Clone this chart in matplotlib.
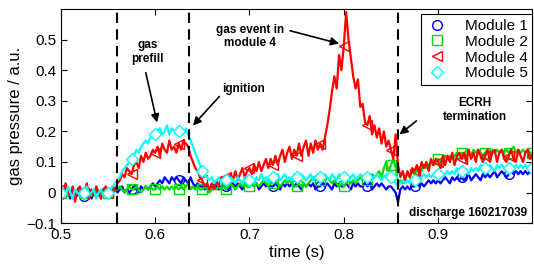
import numpy as np
import matplotlib
matplotlib.use('Agg')
import matplotlib.pyplot as plt

plt.rcParams['font.family'] = ['Liberation Sans', 'DejaVu Sans']

# time base: 0.5 s to 1.0 s, 2.5 ms step
T_START = 0.5
T_STEP = 0.0025

# Module 1 (blue)
module1 = [
    0.00, -0.01, 0.01, 0.00, -0.02, 0.01, 0.00, -0.01, 0.01, 0.00, -0.01, 0.00, 0.01, -0.02, 0.00, 0.01, -0.01, 0.00, 0.01, -0.01,
    0.00, 0.01, 0.00, 0.01, 0.00, 0.01, 0.02, 0.00, 0.01, 0.00, 0.01, 0.02, 0.01, 0.00, 0.02, 0.01, 0.02, 0.01, 0.02, 0.03,
    0.02, 0.03, 0.04, 0.03, 0.05, 0.04, 0.03, 0.05, 0.04, 0.05, 0.04, 0.03, 0.05, 0.04, 0.03, 0.05, 0.03, 0.02, 0.03, 0.02,
    0.02, 0.01, 0.02, 0.01, 0.02, 0.03, 0.02, 0.01, 0.02, 0.03, 0.02, 0.01, 0.02, 0.03, 0.02, 0.03, 0.02, 0.01, 0.03, 0.02,
    0.02, 0.03, 0.02, 0.03, 0.01, 0.02, 0.03, 0.02, 0.03, 0.02, 0.02, 0.03, 0.02, 0.01, 0.03, 0.02, 0.03, 0.02, 0.03, 0.02,
    0.03, 0.02, 0.01, 0.03, 0.02, 0.03, 0.02, 0.03, 0.01, 0.02, 0.02, 0.03, 0.02, 0.03, 0.02, 0.01, 0.03, 0.02, 0.03, 0.02,
    0.02, 0.03, 0.02, 0.01, 0.03, 0.02, 0.03, 0.02, 0.02, 0.03, 0.02, 0.03, 0.01, 0.02, 0.03, 0.02, 0.03, 0.02, 0.01, 0.02,
    0.02, 0.01, 0.00, -0.03, 0.01, 0.02, 0.01, 0.02, 0.01, 0.02, 0.02, 0.03, 0.02, 0.03, 0.02, 0.03, 0.04, 0.03, 0.04, 0.03,
    0.04, 0.03, 0.04, 0.05, 0.04, 0.03, 0.05, 0.04, 0.05, 0.04, 0.05, 0.04, 0.05, 0.06, 0.04, 0.05, 0.06, 0.05, 0.04, 0.06,
    0.05, 0.06, 0.05, 0.06, 0.07, 0.05, 0.06, 0.07, 0.06, 0.05, 0.06, 0.07, 0.06, 0.07, 0.06, 0.07, 0.06, 0.07, 0.06, 0.07,
    0.07,
]

# Module 2 (green)
module2 = [
    0.00, 0.01, 0.00, -0.01, 0.00, 0.01, 0.00, 0.00, -0.01, 0.01, 0.00, 0.01, 0.00, -0.01, 0.00, 0.01, 0.00, 0.00, 0.01, 0.00,
    0.00, 0.01, 0.00, 0.01, 0.01, 0.02, 0.01, 0.00, 0.01, 0.02, 0.01, 0.01, 0.02, 0.01, 0.00, 0.01, 0.02, 0.01, 0.02, 0.01,
    0.01, 0.02, 0.01, 0.02, 0.01, 0.02, 0.01, 0.02, 0.01, 0.02, 0.01, 0.02, 0.01, 0.02, 0.03, 0.01, 0.02, 0.01, 0.02, 0.01,
    0.01, 0.02, 0.01, 0.00, 0.01, 0.02, 0.01, 0.02, 0.01, 0.02, 0.01, 0.02, 0.03, 0.02, 0.01, 0.02, 0.03, 0.02, 0.03, 0.02,
    0.02, 0.03, 0.02, 0.03, 0.02, 0.03, 0.04, 0.03, 0.02, 0.03, 0.03, 0.04, 0.03, 0.02, 0.03, 0.04, 0.03, 0.04, 0.03, 0.02,
    0.02, 0.03, 0.02, 0.03, 0.02, 0.03, 0.04, 0.05, 0.04, 0.05, 0.04, 0.05, 0.04, 0.05, 0.04, 0.03, 0.04, 0.03, 0.02, 0.03,
    0.02, 0.03, 0.04, 0.03, 0.04, 0.03, 0.04, 0.05, 0.04, 0.05, 0.04, 0.05, 0.06, 0.05, 0.06, 0.07, 0.05, 0.08, 0.10, 0.07,
    0.09, 0.11, 0.08, 0.03, 0.04, 0.03, 0.05, 0.06, 0.05, 0.07, 0.06, 0.07, 0.08, 0.07, 0.09, 0.08, 0.09, 0.10, 0.09, 0.10,
    0.11, 0.10, 0.11, 0.12, 0.11, 0.12, 0.11, 0.12, 0.13, 0.12, 0.13, 0.12, 0.14, 0.13, 0.12, 0.14, 0.13, 0.14, 0.13, 0.12,
    0.13, 0.14, 0.13, 0.14, 0.13, 0.14, 0.13, 0.14, 0.13, 0.14, 0.13, 0.14, 0.15, 0.13, 0.14, 0.13, 0.14, 0.13, 0.14, 0.13,
    0.13,
]

# Module 4 (red)
module4 = [
    0.01, -0.02, 0.03, 0.00, -0.01, 0.02, -0.03, 0.01, 0.02, -0.01, 0.00, 0.03, -0.02, 0.01, -0.01, 0.02, 0.00, -0.02, 0.01, 0.02,
    0.00, -0.01, 0.02, 0.01, 0.03, 0.04, 0.06, 0.05, 0.08, 0.07, 0.06, 0.09, 0.10, 0.08, 0.12, 0.10, 0.13, 0.11, 0.12, 0.14,
    0.13, 0.15, 0.12, 0.16, 0.14, 0.13, 0.17, 0.14, 0.15, 0.13, 0.16, 0.14, 0.17, 0.16, 0.15, 0.12, 0.10, 0.08, 0.07, 0.05,
    0.04, 0.02, 0.03, 0.01, 0.03, 0.01, 0.04, 0.02, 0.05, 0.03, 0.05, 0.03, 0.06, 0.04, 0.07, 0.04, 0.06, 0.08, 0.05, 0.07,
    0.08, 0.06, 0.09, 0.07, 0.10, 0.07, 0.09, 0.11, 0.08, 0.11, 0.09, 0.12, 0.09, 0.12, 0.14, 0.10, 0.13, 0.15, 0.11, 0.14,
    0.12, 0.16, 0.12, 0.15, 0.17, 0.12, 0.16, 0.13, 0.17, 0.14, 0.16, 0.14, 0.18, 0.22, 0.27, 0.33, 0.38, 0.34, 0.45, 0.40,
    0.48, 0.59, 0.50, 0.44, 0.38, 0.34, 0.37, 0.28, 0.29, 0.23, 0.22, 0.25, 0.19, 0.22, 0.18, 0.21, 0.16, 0.20, 0.15, 0.17,
    0.14, 0.11, 0.19, 0.09, 0.05, 0.07, 0.04, 0.07, 0.05, 0.08, 0.07, 0.09, 0.06, 0.10, 0.08, 0.10, 0.07, 0.11, 0.09, 0.11,
    0.10, 0.08, 0.12, 0.09, 0.12, 0.10, 0.13, 0.09, 0.12, 0.13, 0.11, 0.13, 0.10, 0.14, 0.11, 0.13, 0.10, 0.14, 0.12, 0.10,
    0.12, 0.14, 0.10, 0.13, 0.14, 0.10, 0.13, 0.14, 0.11, 0.10, 0.12, 0.14, 0.11, 0.10, 0.14, 0.12, 0.10, 0.13, 0.14, 0.11,
    0.12,
]

# Module 5 (cyan)
module5 = [
    0.00, 0.01, -0.01, 0.02, 0.00, -0.02, 0.01, 0.00, -0.01, 0.01, 0.00, 0.02, -0.01, 0.00, 0.01, -0.02, 0.00, 0.01, -0.01, 0.00,
    0.00, 0.01, 0.02, 0.03, 0.04, 0.05, 0.07, 0.08, 0.09, 0.10, 0.11, 0.12, 0.14, 0.13, 0.15, 0.16, 0.17, 0.16, 0.18, 0.19,
    0.19, 0.20, 0.21, 0.19, 0.20, 0.22, 0.19, 0.21, 0.20, 0.19, 0.20, 0.21, 0.19, 0.21, 0.19, 0.17, 0.15, 0.13, 0.11, 0.09,
    0.07, 0.06, 0.05, 0.04, 0.05, 0.03, 0.04, 0.05, 0.03, 0.04, 0.04, 0.03, 0.05, 0.04, 0.03, 0.05, 0.04, 0.03, 0.05, 0.04,
    0.04, 0.05, 0.03, 0.05, 0.04, 0.06, 0.04, 0.05, 0.03, 0.05, 0.05, 0.04, 0.06, 0.04, 0.05, 0.06, 0.04, 0.05, 0.04, 0.06,
    0.05, 0.04, 0.06, 0.05, 0.04, 0.05, 0.06, 0.04, 0.05, 0.06, 0.05, 0.04, 0.06, 0.05, 0.04, 0.06, 0.05, 0.04, 0.06, 0.05,
    0.05, 0.06, 0.04, 0.05, 0.06, 0.04, 0.05, 0.06, 0.05, 0.04, 0.05, 0.06, 0.04, 0.05, 0.06, 0.05, 0.04, 0.05, 0.06, 0.04,
    0.05, 0.04, 0.03, 0.02, 0.03, 0.04, 0.03, 0.04, 0.03, 0.04, 0.04, 0.05, 0.04, 0.05, 0.06, 0.05, 0.06, 0.05, 0.06, 0.05,
    0.06, 0.07, 0.05, 0.06, 0.07, 0.06, 0.07, 0.06, 0.08, 0.07, 0.07, 0.08, 0.07, 0.06, 0.08, 0.07, 0.08, 0.07, 0.09, 0.08,
    0.08, 0.07, 0.09, 0.08, 0.07, 0.09, 0.08, 0.09, 0.08, 0.07, 0.08, 0.09, 0.08, 0.09, 0.08, 0.09, 0.08, 0.09, 0.08, 0.09,
    0.08,
]

series_labels = ['Module 1', 'Module 2', 'Module 4', 'Module 5']
event_times = [0.56, 0.636, 0.857]  # gas prefill start, ignition, ECRH off

x_ticks = [0.5, 0.6, 0.7, 0.8, 0.9]
x_ticklabels = ['0.5', '0.6', '0.7', '0.8', '0.9']
y_ticks = [-0.1, 0, 0.1, 0.2, 0.3, 0.4, 0.5]
y_ticklabels = ['\u22120.1', '0', '0.1', '0.2', '0.3', '0.4', '0.5']


def main():
    t = T_START + T_STEP * np.arange(len(module1))

    fig = plt.figure(figsize=(5.34, 2.65), dpi=100)
    ax = fig.add_axes([0.114, 0.158, 0.883, 0.808])

    lw = 1.6
    ax.plot(t, module1, color='#0000ff', lw=lw, marker='o', ms=7, mfc='none',
            mew=1.0, markevery=(10, 20), label=series_labels[0])
    ax.plot(t, module2, color='#00dd00', lw=lw, marker='s', ms=6.5, mfc='none',
            mew=1.0, markevery=10, label=series_labels[1])
    ax.plot(t, module4, color='#ff0000', lw=lw, marker='<', ms=7.5, mfc='none',
            mew=1.0, markevery=10, label=series_labels[2])
    ax.plot(t, module5, color='#00ffff', lw=lw, marker='D', ms=6, mfc='white',
            mew=1.0, markevery=10, label=series_labels[3])

    for te in event_times:
        ax.axvline(te, color='k', ls=(0, (5, 3)), lw=1.5)

    arrow = dict(arrowstyle='-|>', color='k', lw=1.2, mutation_scale=12,
                 shrinkA=0, shrinkB=0)
    fs = 8.5
    ax.annotate('', xy=(0.602, 0.229), xytext=(0.590, 0.392), arrowprops=arrow)
    ax.text(0.592, 0.46, 'gas\nprefill', ha='center', va='center',
            fontsize=fs, fontweight='bold', linespacing=1.2)
    ax.annotate('', xy=(0.640, 0.219), xytext=(0.668, 0.314), arrowprops=arrow)
    ax.text(0.671, 0.337, 'ignition', ha='left', va='center',
            fontsize=fs, fontweight='bold')
    ax.annotate('', xy=(0.795, 0.487), xytext=(0.743, 0.529), arrowprops=arrow)
    ax.text(0.701, 0.51, 'gas event in\nmodule 4', ha='center', va='center',
            fontsize=fs, fontweight='bold', linespacing=1.2)
    ax.annotate('', xy=(0.859, 0.19), xytext=(0.877, 0.234), arrowprops=arrow)
    ax.text(0.939, 0.271, 'ECRH\ntermination', ha='center', va='center',
            fontsize=fs, fontweight='bold', linespacing=1.2)
    ax.text(0.994, -0.067, 'discharge 160217039', ha='right', va='center',
            fontsize=fs, fontweight='bold')

    ax.set_xlim(0.5, 1.0)
    ax.set_ylim(-0.1, 0.6)
    ax.set_xticks(x_ticks)
    ax.set_xticklabels(x_ticklabels)
    ax.set_yticks(y_ticks)
    ax.set_yticklabels(y_ticklabels)
    ax.tick_params(direction='in', top=True, right=True, labelsize=11,
                   length=4, width=0.8)
    for s in ax.spines.values():
        s.set_linewidth(0.8)

    ax.set_xlabel('time (s)', fontsize=12, labelpad=2)
    ax.set_ylabel('gas pressure / a.u.', fontsize=12, labelpad=2)

    leg = ax.legend(loc='upper right', bbox_to_anchor=(1.0, 0.975),
                    borderaxespad=0, fontsize=11, fancybox=False,
                    edgecolor='k', framealpha=1, handlelength=1.6,
                    labelspacing=0.12, handletextpad=1.0, borderpad=0.3)
    leg.get_frame().set_linewidth(0.8)
    for h in leg.legend_handles:
        h.set_linestyle('none')

    fig.savefig('out.png', dpi=100)


if __name__ == '__main__':
    main()
